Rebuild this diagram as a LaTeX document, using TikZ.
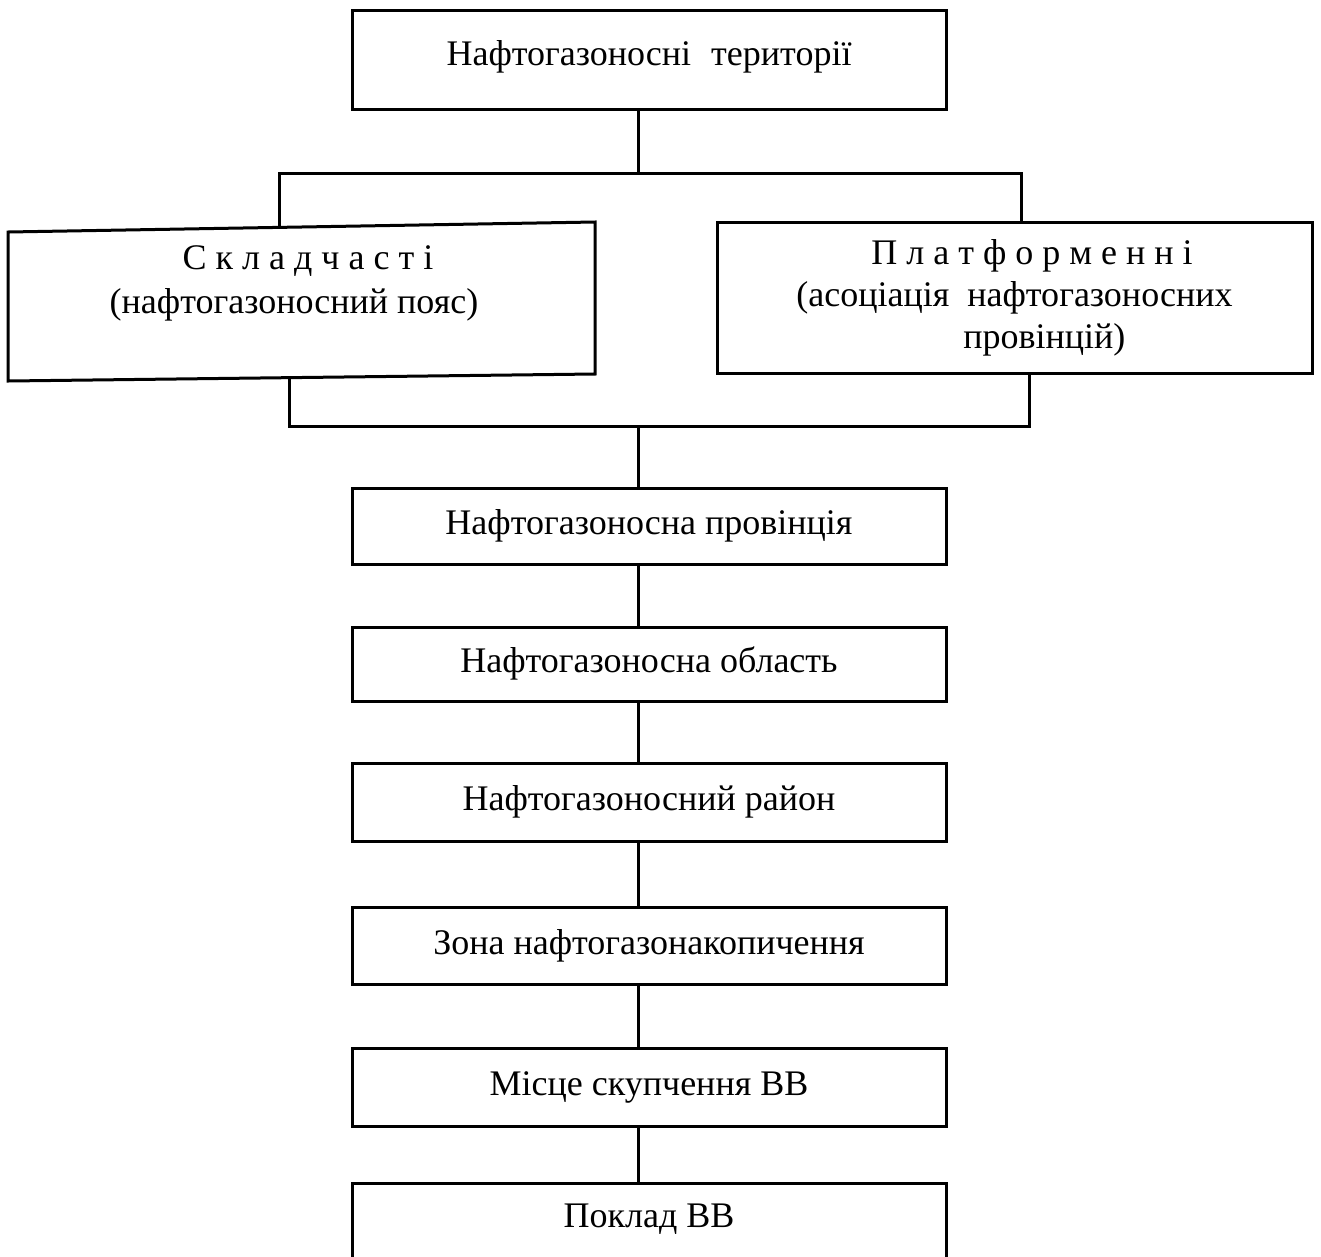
\documentclass[tikz,border=0pt]{standalone}
\usepackage{fontspec}
\setmainfont{Liberation Serif}
\begin{document}
\begin{tikzpicture}[x=1pt,y=-1pt,line width=3pt,
  box/.style={draw,rectangle,inner sep=0pt,minimum width=594pt,
    font=\fontsize{36}{42}\selectfont,text height=25pt,text depth=8pt},
  mbox/.style={draw,rectangle,inner sep=0pt,font=\fontsize{36}{42}\selectfont},
  txt/.style={inner sep=0pt,font=\fontsize{36}{44}\selectfont}]
\useasboundingbox (0,0) rectangle (1321,1256);
\clip (0,0) rectangle (1321,1256);
% top box
\node[box,minimum height=99pt,text depth=14pt] (top) at (649,59.5) {Нафтогазоносні\hspace{20pt}території};
% left box (slightly skewed outline)
\coordinate (sklTL) at (8,232);
\coordinate (sklTR) at (595,222);
\coordinate (sklBR) at (595,374);
\coordinate (sklBL) at (8,381);
\draw (sklTL) -- (sklTR) -- (sklBR) -- (sklBL) -- cycle;
\node[txt,align=center] (skl) at (294,283.5) {\hspace*{28pt}С к л а д ч а с т і\\(нафтогазоносний пояс)};
\coordinate (sklN) at (279,227.4);
\coordinate (sklS) at (289,377.6);
% right box
\node[mbox,minimum width=595pt,minimum height=151pt,align=left] (plt) at (1014.5,298)
  {\hspace*{75pt}П л а т ф о р м е н н і\\(асоціація\hspace{18pt}нафтогазоносних\\\hspace*{167pt}провінцій)};
% chain of boxes
\node[box,minimum height=76pt] (prov) at (649,526) {Нафтогазоносна провінція};
\node[box,minimum height=74pt] (obl) at (649,664) {Нафтогазоносна область};
\node[box,minimum height=78pt] (rai) at (649,802) {Нафтогазоносний район};
\node[box,minimum height=77pt] (zona) at (649,945.5) {Зона нафтогазонакопичення};
\node[box,minimum height=78pt] (misce) at (649,1087) {Місце скупчення ВВ};
\node[box,minimum height=150pt,text depth=87pt] (pokl) at (649,1258) {Поклад ВВ};
% connectors
\coordinate (cx) at (638,0);
\coordinate (j1) at (638,173);
\coordinate (jl) at (279,173);
\coordinate (jr) at (1021,173);
\coordinate (kl) at (289,426);
\coordinate (kr) at (1029,426);
\draw (top.south -| cx) -- (j1);
\draw (sklN) -- (jl) -- (jr) -- (plt.north -| jr);
\draw (sklS) -- (kl) -- (kr) -- (plt.south -| kr);
\draw (kl -| cx) -- (prov.north -| cx);
\draw (prov.south -| cx) -- (obl.north -| cx);
\draw (obl.south -| cx) -- (rai.north -| cx);
\draw (rai.south -| cx) -- (zona.north -| cx);
\draw (zona.south -| cx) -- (misce.north -| cx);
\draw (misce.south -| cx) -- (pokl.north -| cx);
\end{tikzpicture}
\end{document}
